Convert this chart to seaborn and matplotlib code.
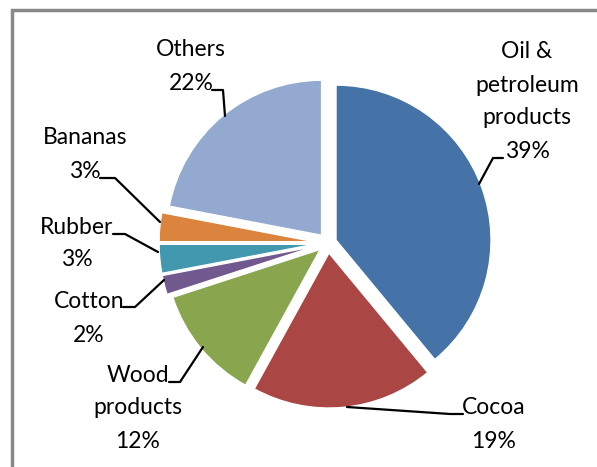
import matplotlib
matplotlib.use("Agg")
import matplotlib.pyplot as plt
import seaborn as sns
from matplotlib.lines import Line2D
from matplotlib.patches import Rectangle

# данні діаграми
categories = ["Oil &\npetroleum\nproducts", "Cocoa", "Wood\nproducts", "Cotton",
              "Rubber", "Bananas", "Others"]
shares = [39, 19, 12, 2, 3, 3, 22]
colors = ["#4572A7", "#AA4643", "#89A54E", "#71588F", "#4198AF", "#DB843D", "#93A9CF"]

W, H = 597, 467
CX, CY, R = 328, 243, 155

# розташування підписів (пікселі): x центру, y першого рядка
label_pos = [(527, 52), (494, 408), (138, 375), (89, 302), (77, 227), (85, 138), (191, 50)]
# лінії-виноски (пікселі)
leaders = [
    [(479, 184), (493, 158), (503, 158)],
    [(347, 407), (450, 414), (463, 414)],
    [(203, 347), (180, 382), (169, 382)],
    [(164, 280), (135, 307), (123, 307)],
    [(158, 252), (125, 234), (113, 234)],
    [(160, 222), (115, 178), (100, 178)],
    [(225, 116), (223, 90), (212, 90)],
]
LINE_STEP = 33

sns.set_theme(style="white")
plt.rcParams["font.family"] = ["Lato", "DejaVu Sans"]

fig = plt.figure(figsize=(W / 100, H / 100), dpi=100)
ax = fig.add_axes([0, 0, 1, 1])

explode = [0.055, 0.065, 0.065, 0.09, 0.09, 0.09, 0.065]
ax.pie(shares, colors=colors, startangle=90, counterclock=False, explode=explode,
       radius=1, wedgeprops=dict(edgecolor="white", linewidth=1))

# межі після pie, бо pie їх перезаписує
ax.set_aspect("auto")
ax.set_xlim(-CX / R, (W - CX) / R)
ax.set_ylim((CY - H) / R, CY / R)
ax.axis("off")


def px(x, y):
    return x / W, 1 - y / H


for name, val, (lx, ly) in zip(categories, shares, label_pos):
    lines = name.split("\n") + [f"{val}%"]
    for i, t in enumerate(lines):
        fx, fy = px(lx, ly + i * LINE_STEP)
        fig.text(fx, fy, t, ha="center", va="center", fontsize=16.5, color="black")

for pts in leaders:
    xs = [px(x, y)[0] for x, y in pts]
    ys = [px(x, y)[1] for x, y in pts]
    fig.add_artist(Line2D(xs, ys, color="black", linewidth=1.6, transform=fig.transFigure))

# рамка області діаграми
fig.add_artist(Rectangle(px(12, H + 20), (W + 20) / W, (H + 10) / H, fill=False,
                         edgecolor="#888888", linewidth=2.5, transform=fig.transFigure))

fig.savefig("out.png", dpi=100)
